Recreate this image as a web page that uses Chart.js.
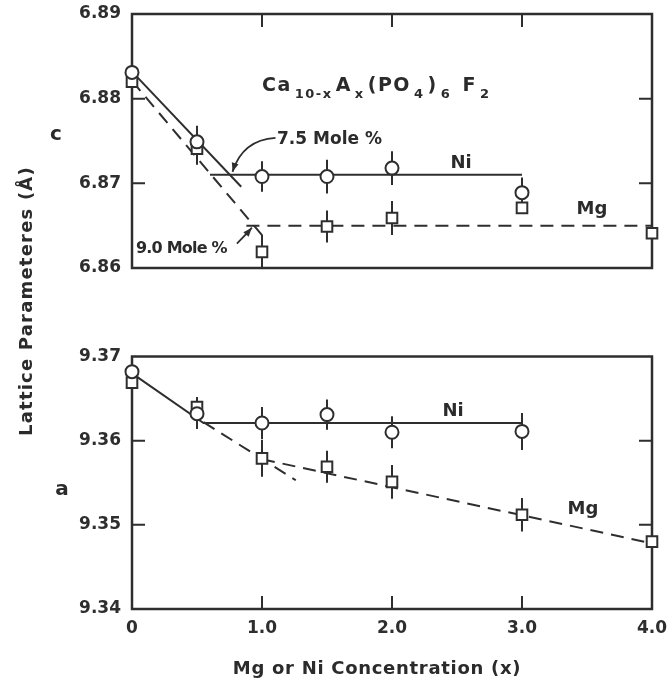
<!DOCTYPE html>
<html lang="en">
<head>
  <meta charset="UTF-8" />
  <title>Lattice Parameters vs Mg or Ni Concentration</title>
  <script src="https://cdn.jsdelivr.net/npm/chart.js@4.4.1/dist/chart.umd.min.js"></script>
  <style>
    body { margin: 0; background: #fff; }
    #wrap { position: relative; width: 670px; height: 684px; overflow: hidden;
            font-family: "DejaVu Sans", sans-serif; font-weight: bold; color: #2b2b2b; }
    canvas { position: absolute; left: 0; }
    #topChart { top: -30px; }
    #botChart { top: 300px; }
    .lbl { position: absolute; white-space: nowrap; font-size: 18px; line-height: 1; transform: translate(-50%, -50%); }
    .left { transform: translate(0, -50%); }
    #ytitle { position: absolute; left: 25px; top: 301px; white-space: nowrap; font-size: 18px; letter-spacing: 1.2px;
              transform: translate(-50%, -50%) rotate(-90deg); }
    #xtitle { position: absolute; left: 377px; top: 667px; white-space: nowrap; font-size: 18px; letter-spacing: 0.7px;
              transform: translate(-50%, -50%); }
    #formula { position: absolute; left: 262px; top: 73px; font-size: 19px; white-space: nowrap; letter-spacing: 1.5px; }
    #formula sub { font-size: 13px; vertical-align: -7px; margin: 0 3px; }
  </style>
</head>
<body>
<div id="wrap">
  <canvas id="topChart" width="670" height="320"></canvas>
  <canvas id="botChart" width="670" height="384"></canvas>

  <div id="ytitle">Lattice Parameteres (Å)</div>
  <div id="xtitle">Mg or Ni Concentration (x)</div>
  <div class="lbl" style="left:56px;top:133px;font-size:20px">c</div>
  <div class="lbl" style="left:62px;top:488px;font-size:20px">a</div>
  <div id="formula">Ca<sub>10-x</sub>A<sub>x</sub>(PO<sub>4</sub>)<sub>6</sub> F<sub>2</sub></div>
  <div class="lbl left" style="left:277px;top:138px;font-size:17px">7.5 Mole %</div>
  <div class="lbl left" style="left:136px;top:248px;font-size:16px;letter-spacing:-0.8px">9.0 Mole %</div>
  <div class="lbl" style="left:461px;top:162px">Ni</div>
  <div class="lbl" style="left:592px;top:208px">Mg</div>
  <div class="lbl" style="left:453px;top:410px">Ni</div>
  <div class="lbl" style="left:583px;top:508px">Mg</div>
</div>

<script>
  // concentrations x
  const conc = [0, 0.5, 1.0, 1.5, 2.0, 3.0, 4.0];

  // c parameter (top panel)
  const cNi    = [6.8831, 6.8749, 6.8708, 6.8708, 6.8718, 6.8689, null];
  const cNiErr = [0, 0.0019, 0.0018, 0.0020, 0.0020, 0.0018, 0];
  const cMg    = [6.8820, 6.8741, 6.8619, 6.8649, 6.8659, 6.8671, 6.8641];
  const cMgErr = [0, 0.0019, 0.0020, 0.0019, 0.0020, 0, 0];

  // a parameter (bottom panel)
  const aNi    = [9.3682, 9.3632, 9.3621, 9.3631, 9.3610, 9.3611, null];
  const aNiErr = [0, 0.0018, 0.0019, 0.0018, 0.0019, 0.0022, 0];
  const aMg    = [9.3669, 9.3640, 9.3579, 9.3569, 9.3551, 9.3512, 9.3480];
  const aMgErr = [0, 0.0012, 0.0022, 0.0019, 0.0020, 0.0020, 0];

  // drawn fit lines, [x, y]
  const cNiSlope   = [[0, 6.8832], [0.84, 6.8696]];
  const cNiFlat    = [[0.6, 6.871], [3.0, 6.871]];
  const cMgSlope   = [[0, 6.8821], [1.01, 6.8637]];
  const cMgFlat    = [[0.88, 6.865], [4.0, 6.865]];
  const aNiFit     = [[0, 9.3680], [0.55, 9.3621], [3.0, 9.3621]];
  const aMgSteep   = [[0.55, 9.3622], [1.26, 9.3553]];
  const aMgShallow = [[1.0, 9.3578], [4.0, 9.3478]];

  // axis ticks
  const xTicks = [0, 1, 2, 3, 4];
  const xTickLabels = ['0', '1.0', '2.0', '3.0', '4.0'];
  const cTicks = [6.86, 6.87, 6.88, 6.89];
  const aTicks = [9.34, 9.35, 9.36, 9.37];

  const ink = '#2e2e2e';
  const tickFont = { family: 'DejaVu Sans', size: 17, weight: 'bold' };

  function pairs(xs, ys) {
    return xs.map((x, i) => ({ x: x, y: ys[i] })).filter(p => p.y !== null);
  }
  function seg(list) {
    return list.map(p => ({ x: p[0], y: p[1] }));
  }
  function lineSet(list, dashed) {
    return { data: seg(list), showLine: true, borderColor: ink, borderWidth: 2,
             borderDash: dashed ? [13, 8] : [], pointRadius: 0, clip: false, order: 2 };
  }
  function markerSet(data, style) {
    return { data: data, showLine: false, pointStyle: style, pointRadius: style === 'circle' ? 6.5 : 7.5,
             pointBorderWidth: 2, pointBackgroundColor: '#fff', pointBorderColor: ink, clip: false, order: 1 };
  }

  // frame, inward ticks, error bars and arrows
  const framePlugin = {
    id: 'frame',
    beforeDatasetsDraw(chart, args, opts) {
      const { ctx, chartArea: a, scales: { x, y } } = chart;
      ctx.save();
      ctx.strokeStyle = ink;
      ctx.lineWidth = 2.5;
      ctx.strokeRect(a.left, a.top, a.right - a.left, a.bottom - a.top);
      ctx.lineWidth = 2;
      const L = 13;
      ctx.beginPath();
      (opts.top || []).forEach(v => { const px = x.getPixelForValue(v); ctx.moveTo(px, a.top); ctx.lineTo(px, a.top + L); });
      (opts.bottom || []).forEach(v => { const px = x.getPixelForValue(v); ctx.moveTo(px, a.bottom); ctx.lineTo(px, a.bottom - L); });
      (opts.left || []).forEach(v => { const py = y.getPixelForValue(v); ctx.moveTo(a.left, py); ctx.lineTo(a.left + L, py); });
      (opts.right || []).forEach(v => { const py = y.getPixelForValue(v); ctx.moveTo(a.right, py); ctx.lineTo(a.right - L, py); });
      ctx.stroke();

      // error bars
      ctx.lineWidth = 2;
      ctx.beginPath();
      (opts.errors || []).forEach(s => {
        s.vals.forEach((v, i) => {
          if (v === null || !s.err[i]) return;
          const px = x.getPixelForValue(conc[i]);
          const y1 = Math.min(y.getPixelForValue(v - s.err[i]), a.bottom);
          const y2 = Math.max(y.getPixelForValue(v + s.err[i]), a.top);
          ctx.moveTo(px, y1); ctx.lineTo(px, y2);
        });
      });
      ctx.stroke();

      // annotation arrows
      (opts.arrows || []).forEach(ar => {
        const tx = x.getPixelForValue(ar.at[0]) + ar.nudge[0];
        const ty = y.getPixelForValue(ar.at[1]) + ar.nudge[1];
        const sx = tx + ar.tail[0], sy = ty + ar.tail[1];
        const cx = tx + ar.ctrl[0], cy = ty + ar.ctrl[1];
        ctx.lineWidth = 1.8;
        ctx.beginPath();
        ctx.moveTo(sx, sy);
        ctx.quadraticCurveTo(cx, cy, tx, ty);
        ctx.stroke();
        const ang = Math.atan2(ty - cy, tx - cx);
        const h = 9, w = 3.5;
        ctx.beginPath();
        ctx.moveTo(tx, ty);
        ctx.lineTo(tx - h * Math.cos(ang) + w * Math.sin(ang), ty - h * Math.sin(ang) - w * Math.cos(ang));
        ctx.lineTo(tx - h * Math.cos(ang) - w * Math.sin(ang), ty - h * Math.sin(ang) + w * Math.cos(ang));
        ctx.closePath();
        ctx.fillStyle = ink;
        ctx.fill();
      });
      ctx.restore();
    }
  };

  Chart.register(framePlugin);

  function yScale(min, max, ticks) {
    return {
      type: 'linear', min: min, max: max,
      afterBuildTicks: s => { s.ticks = ticks.map(v => ({ value: v })); },
      afterFit: s => { s.width = 132; },
      grid: { display: false, drawTicks: false },
      border: { display: false },
      ticks: { color: ink, font: tickFont, padding: 11, callback: v => v.toFixed(2) }
    };
  }

  // top panel: c
  new Chart(document.getElementById('topChart'), {
    type: 'scatter',
    data: {
      datasets: [
        markerSet(pairs(conc, cNi), 'circle'),
        markerSet(pairs(conc, cMg), 'rect'),
        lineSet(cNiSlope, false),
        lineSet(cNiFlat, false),
        lineSet(cMgSlope, true),
        lineSet(cMgFlat, true)
      ]
    },
    options: {
      responsive: false,
      animation: false,
      layout: { padding: { top: 44, right: 18, bottom: 22, left: 0 } },
      plugins: {
        legend: { display: false },
        tooltip: { enabled: false },
        frame: {
          top: [1, 2, 3], left: [6.87, 6.88], right: [6.87, 6.88],
          errors: [{ vals: cNi, err: cNiErr }, { vals: cMg, err: cMgErr }],
          arrows: [
            { at: [0.75, 6.871], nudge: [3, -3], tail: [43, -34], ctrl: [10, -32] },
            { at: [0.93, 6.865], nudge: [-1, 2], tail: [-15, 16], ctrl: [-7, 8] }
          ]
        }
      },
      scales: {
        x: { type: 'linear', min: 0, max: 4, display: false },
        y: yScale(6.86, 6.89, cTicks)
      }
    }
  });

  // bottom panel: a
  new Chart(document.getElementById('botChart'), {
    type: 'scatter',
    data: {
      datasets: [
        markerSet(pairs(conc, aNi), 'circle'),
        markerSet(pairs(conc, aMg), 'rect'),
        lineSet(aNiFit, false),
        lineSet(aMgSteep, true),
        lineSet(aMgShallow, true)
      ]
    },
    options: {
      responsive: false,
      animation: false,
      layout: { padding: { top: 56.5, right: 18, bottom: 0, left: 0 } },
      plugins: {
        legend: { display: false },
        tooltip: { enabled: false },
        frame: {
          bottom: [1, 2, 3], left: [9.35, 9.36], right: [9.35, 9.36],
          errors: [{ vals: aNi, err: aNiErr }, { vals: aMg, err: aMgErr }]
        }
      },
      scales: {
        x: {
          type: 'linear', min: 0, max: 4,
          afterBuildTicks: s => { s.ticks = xTicks.map(v => ({ value: v })); },
          afterFit: s => { s.height = 75; s.paddingLeft = 0; s.paddingRight = 0; },
          grid: { display: false, drawTicks: false },
          border: { display: false },
          ticks: { color: ink, font: tickFont, padding: 9, maxRotation: 0,
                   callback: (v, i) => xTickLabels[i] }
        },
        y: yScale(9.34, 9.37, aTicks)
      }
    }
  });
</script>
</body>
</html>
